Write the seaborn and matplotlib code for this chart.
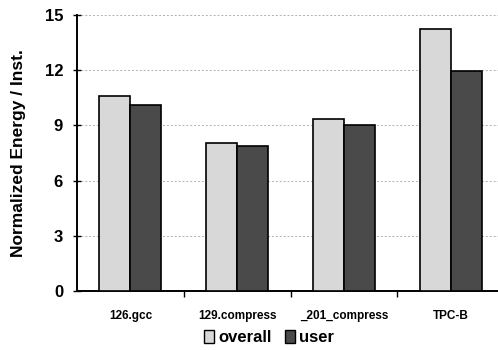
import matplotlib
matplotlib.use("Agg")
import matplotlib.pyplot as plt
from matplotlib.patches import Patch
import seaborn as sns
import pandas as pd

benchmarks = ["126.gcc", "129.compress", "_201_compress", "TPC-B"]
overall = [10.6, 8.05, 9.35, 14.25]
user = [10.1, 7.9, 9.05, 11.95]
series = ["overall", "user"]
y_ticks = [0, 3, 6, 9, 12, 15]

df = pd.DataFrame({
    "benchmark": benchmarks * 2,
    "series": ["overall"] * len(benchmarks) + ["user"] * len(benchmarks),
    "value": overall + user,
})

sns.set_theme(style="white")
plt.rcParams["font.family"] = ["Liberation Sans", "DejaVu Sans"]
plt.rcParams["font.weight"] = "bold"
plt.rcParams["text.color"] = "black"
plt.rcParams["axes.labelcolor"] = "black"
plt.rcParams["xtick.color"] = "black"
plt.rcParams["ytick.color"] = "black"

fig = plt.figure(figsize=(4.98, 3.5), dpi=100)
ax = fig.add_axes([0.1546, 0.1686, 0.845, 0.7884])

palette = {"overall": "#d8d8d8", "user": "#4a4a4a"}
sns.barplot(data=df, x="benchmark", y="value", hue="series", order=benchmarks,
            hue_order=series, palette=palette, width=0.58, edgecolor="black",
            linewidth=1.2, saturation=1, legend=False, ax=ax, zorder=3)

ax.set_ylim(0, 15)
ax.set_xlim(-0.5, 3.44)
ax.set_yticks(y_ticks)
ax.set_yticklabels([str(t) for t in y_ticks], fontsize=12, fontweight="bold")
ax.yaxis.grid(True, linestyle=(0, (2, 2)), color="#b0b0b0", linewidth=0.7, zorder=0)
ax.xaxis.grid(False)

ax.set_xticks(range(len(benchmarks)))
ax.set_xticklabels(benchmarks, fontsize=8.5, fontweight="bold")
ax.tick_params(axis="x", which="major", length=0, pad=14)
ax.set_xticks([0.5, 1.5, 2.5], minor=True)
ax.tick_params(axis="x", which="minor", length=4, width=1, color="black", direction="out", bottom=True)
ax.tick_params(axis="y", length=6, width=1, color="black", direction="inout", left=True, pad=7)

for side in ["top", "right"]:
    ax.spines[side].set_visible(False)
for side in ["left", "bottom"]:
    ax.spines[side].set_color("black")
    ax.spines[side].set_linewidth(1.4)

ax.set_xlabel("")
ax.set_ylabel("Normalized Energy / Inst.", fontsize=12.5, fontweight="bold")
ax.yaxis.set_label_coords(-0.122, 0.5)

handles = [Patch(facecolor=palette[s], edgecolor="black", linewidth=1) for s in series]
fig.legend(handles, series, loc="center", bbox_to_anchor=(0.54, 0.036), ncol=2,
           frameon=False, prop={"size": 12, "weight": "bold"}, handlelength=0.6,
           handleheight=0.8, handletextpad=0.25, columnspacing=0.8, borderpad=0)

fig.savefig("out.png", dpi=100)
